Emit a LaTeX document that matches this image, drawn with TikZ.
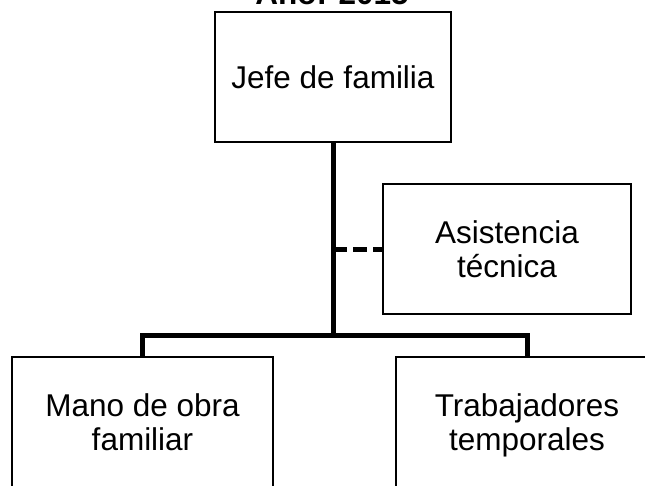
\documentclass[tikz,border=0pt]{standalone}
\usepackage{fontspec}
\setmainfont{Liberation Sans}
\usetikzlibrary{positioning}
% struts so that every two-line label sits in the middle of its box
\newcommand{\upstrut}{\rule[-7pt]{0pt}{36.6pt}}
\newcommand{\dnstrut}{\rule[-7pt]{0pt}{7pt}}

\begin{document}
\begin{tikzpicture}[x=1pt, y=-1pt,
  box/.style={draw, line width=2pt, minimum height=130pt, inner sep=0pt, align=center, font=\fontsize{31.5}{33.5}\selectfont},
  link/.style={line width=5pt, line join=miter},
  help/.style={link, dash pattern=on 14pt off 6pt}]
  \useasboundingbox (0,0) rectangle (645,485);

  \node[anchor=base, font=\bfseries\fontsize{31.5}{33.5}\selectfont] (title) at (332,4) {Año: 2015};

  \node[box, minimum width=236pt] (jefe) at (333,77) {Jefe de familia};
  \node[box, minimum width=248pt] (asis) at (507,249) {\upstrut Asistencia\\técnica\dnstrut};
  \node[box, minimum width=261pt] (mano) at (142.5,422) {\upstrut Mano de obra\\familiar\dnstrut};
  \node[box, minimum width=262pt] (trab) at (527,422) {\upstrut Trabajadores\\temporales\dnstrut};

  \coordinate (fork) at (333,335);
  \draw[link] (jefe.south) -- (fork);
  \draw[link] (mano.north) |- (fork) -| (trab.north);
  \draw[help] (jefe.south |- asis.west) -- (asis.west);
\end{tikzpicture}
\end{document}
